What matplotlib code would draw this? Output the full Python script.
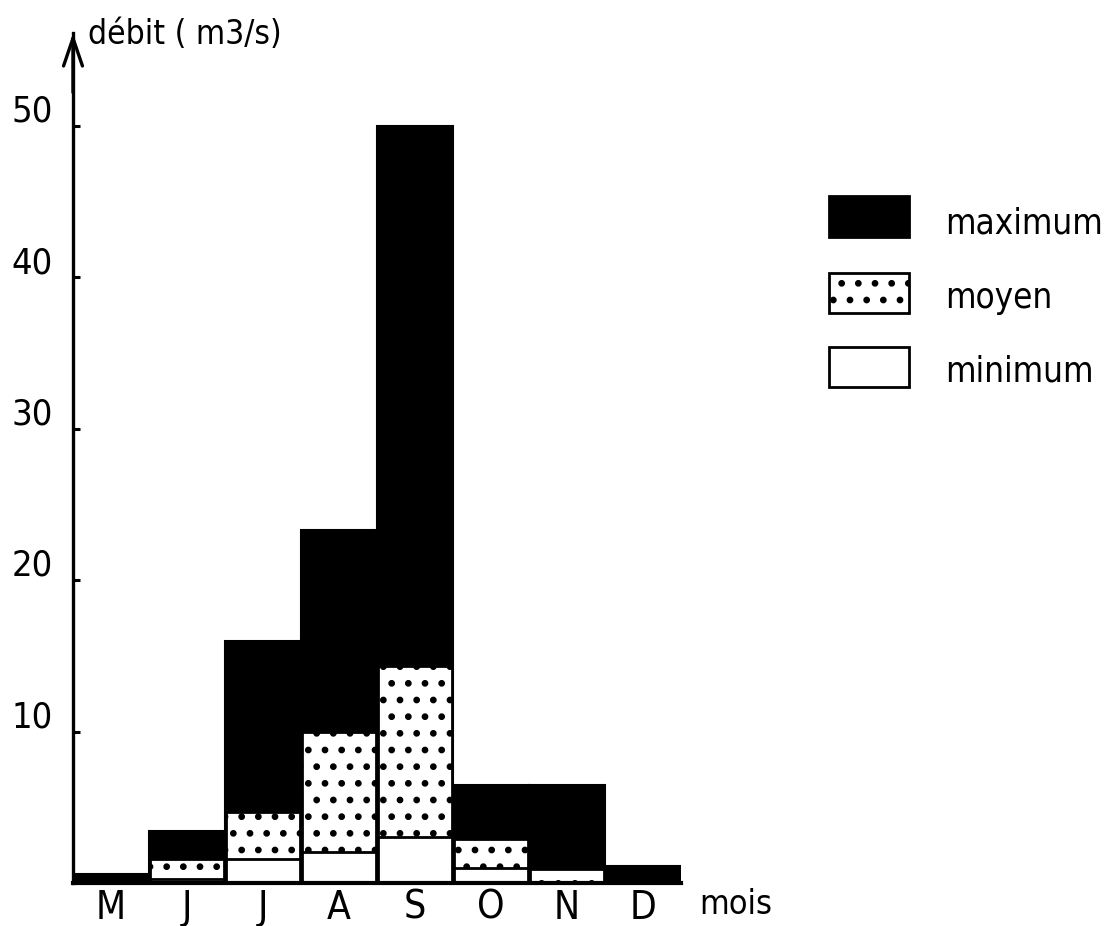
import matplotlib
matplotlib.use("Agg")
import matplotlib.pyplot as plt
from matplotlib.patches import Rectangle
import matplotlib.transforms as mtransforms

# ---- data ----
months = ["M", "J", "J", "A", "S", "O", "N", "D"]
debit_max = [0.6, 3.4, 16.0, 23.3, 50.0, 6.5, 6.5, 1.1]
debit_moyen = [0.0, 1.6, 4.7, 10.0, 14.3, 2.9, 0.9, 0.0]
debit_min = [0.0, 0.25, 1.6, 2.05, 3.05, 1.0, 0.0, 0.0]
y_ticks = [10, 20, 30, 40, 50]
y_tick_labels = ["10", "20", "30", "40", "50"]
legend_labels = ["maximum", "moyen", "minimum"]

W, H = 1111, 926
plt.rcParams['font.family'] = ['DejaVu Sans']
plt.rcParams['font.stretch'] = 'condensed'
plt.rcParams['hatch.linewidth'] = 2.4
plt.rcParams['hatch.color'] = 'black'

fig = plt.figure(figsize=(W / 100, H / 100), dpi=100)

def fx(px):
    return px / W

def fy(py):
    return 1 - py / H

x0, x1 = 73, 681
ybase, ytop = 883, 33
unit = 15.15
ax = fig.add_axes([fx(x0), fy(ybase), fx(x1) - fx(x0), (ybase - ytop) / H])
ax.set_xlim(0, len(months))
ax.set_ylim(0, (ybase - ytop) / unit)

centers = [i + 0.5 for i in range(len(months))]
ax.bar(centers, debit_max, width=1.0, color='black', edgecolor='black', linewidth=1.5, zorder=2)
ax.bar(centers, debit_moyen, width=0.97, color='white', edgecolor='black', linewidth=2.0,
       hatch='.', zorder=3)
ax.bar(centers, debit_min, width=0.97, color='white', edgecolor='black', linewidth=2.0, zorder=4)

for s in ['top', 'right']:
    ax.spines[s].set_visible(False)
ax.spines['left'].set_linewidth(2.4)
ax.spines['bottom'].set_linewidth(3.0)
ax.spines['bottom'].set_zorder(5)

ax.set_yticks(y_ticks)
ax.set_yticklabels([])
ax.tick_params(axis='y', direction='in', length=5, width=2.2, left=True)
offset = mtransforms.ScaledTranslation(-0.20, 0.14, fig.dpi_scale_trans)
trans = mtransforms.blended_transform_factory(ax.transAxes, ax.transData) + offset
for v, lab in zip(y_ticks, y_tick_labels):
    ax.text(0, v, lab, transform=trans, ha='right', va='center', fontsize=26)

ax.set_xticks(centers)
ax.set_xticklabels(months, fontsize=28)
ax.tick_params(axis='x', length=0, pad=4)

# arrow on y axis
ax.annotate('', xy=(0, 1.0), xycoords='axes fraction', xytext=(0, 0.93),
            arrowprops=dict(arrowstyle='->,head_length=1.0,head_width=0.34',
                            lw=2.4, mutation_scale=20, color='black',
                            shrinkA=0, shrinkB=0),
            annotation_clip=False)

fig.text(fx(88), fy(34), "débit ( m3/s)", fontsize=24, ha='left', va='center')
fig.text(fx(699), fy(904), "mois", fontsize=24.5, ha='left', va='center')

# legend
boxes = [(829, 196, 909, 237, 'black', None),
         (829, 273, 909, 313, 'white', '.'),
         (829, 347, 909, 387, 'white', None)]
text_y = [224, 298, 371]
for (bx0, by0, bx1, by1, fc, h), lab, ty in zip(boxes, legend_labels, text_y):
    r = Rectangle((fx(bx0), fy(by1)), fx(bx1) - fx(bx0), fy(by0) - fy(by1),
                  transform=fig.transFigure, facecolor=fc, edgecolor='black',
                  linewidth=2.0, hatch=h)
    fig.add_artist(r)
    fig.text(fx(945), fy(ty), lab, fontsize=25, ha='left', va='center')

fig.savefig("out.png", dpi=100)
